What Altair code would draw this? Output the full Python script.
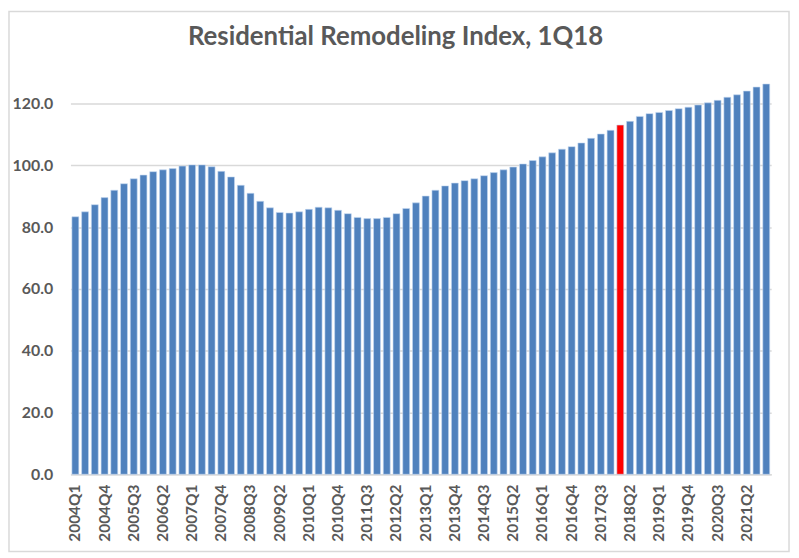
import altair as alt
import pandas as pd

years = list(range(2004, 2022))
quarters = [f"{y}Q{q}" for y in years for q in range(1, 5)]

values = [
    83.4, 85.0, 87.3, 89.6, 92.0, 94.1, 95.7, 96.9, 98.0, 98.6, 99.0, 99.8,
    100.2, 100.2, 99.6, 98.1, 96.3, 93.6, 91.0, 88.4, 86.3, 84.8, 84.6, 85.0,
    85.8, 86.5, 86.3, 85.5, 84.4, 83.2, 82.8, 82.8, 83.2, 84.4, 86.1, 87.9,
    90.1, 92.0, 93.4, 94.3, 95.1, 95.7, 96.7, 97.7, 98.6, 99.5, 100.5, 101.6,
    102.8, 104.1, 105.3, 106.1, 107.3, 108.8, 110.2, 111.4, 113.1, 114.3, 115.9, 116.8,
    117.2, 117.8, 118.4, 118.9, 119.6, 120.3, 121.1, 122.1, 122.9, 124.1, 125.4, 126.4,
]
highlight = "2018Q1"
tick_labels = quarters[::3]
y_ticks = [0, 20, 40, 60, 80, 100, 120]
title_text = "Residential Remodeling Index, 1Q18"

df = pd.DataFrame({"quarter": quarters, "index": values})
df["hl"] = df["quarter"] == highlight

grey = "#595959"

bars = alt.Chart(df).mark_bar(stroke="#c6d9f1", strokeWidth=0.6).encode(
    x=alt.X(
        "quarter:N",
        sort=quarters,
        scale=alt.Scale(paddingInner=0.29, paddingOuter=0.15),
        axis=alt.Axis(
            title=None,
            values=tick_labels,
            labelAngle=-90,
            labelFont="Lato",
            labelFontSize=15.5,
            labelFontWeight="bold",
            labelColor=grey,
            labelPadding=10,
            ticks=False,
            domainColor="#d9d9d9",
            domainWidth=1.5,
            grid=False,
        ),
    ),
    y=alt.Y(
        "index:Q",
        scale=alt.Scale(domain=[0, 130], nice=False),
        axis=alt.Axis(
            title=None,
            values=y_ticks,
            format=".1f",
            labelFont="Lato",
            labelFontSize=16,
            labelFontWeight="bold",
            labelColor=grey,
            labelPadding=18,
            ticks=False,
            domain=False,
            gridColor="#d9d9d9",
            gridWidth=1.5,
        ),
    ),
    color=alt.Color(
        "hl:N",
        scale=alt.Scale(domain=[False, True], range=["#4f81bd", "#ff0000"]),
        legend=None,
    ),
)

one = alt.Data(values=[{"t": title_text}])

border = alt.Chart(one).mark_rect(
    fill="transparent", stroke="#d9d9d9", strokeWidth=1.5
).encode(
    x=alt.value(-62), x2=alt.value(725), y=alt.value(-62), y2=alt.value(483)
)

title = alt.Chart(one).mark_text(
    font="Lato", fontSize=26, fontWeight="bold", color=grey,
    align="center", baseline="alphabetic",
).encode(text="t:N", x=alt.value(328), y=alt.value(-28))

chart = alt.layer(bars, border, title).properties(
    width=707,
    height=405,
    padding={"left": 63, "top": 63, "right": 20, "bottom": 80},
    autosize=alt.AutoSizeParams(type="none"),
).configure_view(stroke=None)

chart.save("out.html", embed_options={"renderer": "svg", "actions": False})
